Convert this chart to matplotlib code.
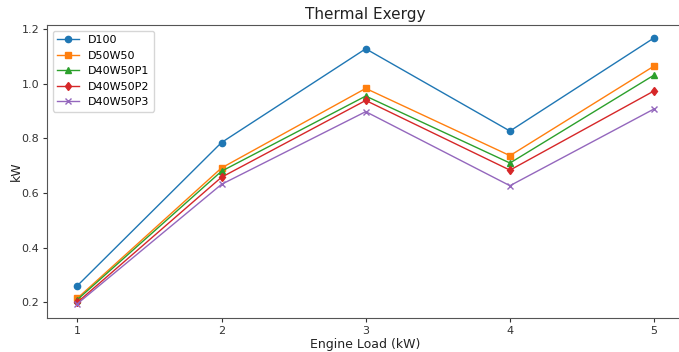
import matplotlib
matplotlib.use("Agg")
import matplotlib.pyplot as plt

load = [1, 2, 3, 4, 5]
d100 = [0.261, 0.785, 1.128, 0.827, 1.168]
d50w50 = [0.215, 0.692, 0.983, 0.737, 1.065]
d40w50p1 = [0.210, 0.680, 0.955, 0.710, 1.032]
d40w50p2 = [0.200, 0.658, 0.939, 0.684, 0.974]
d40w50p3 = [0.195, 0.632, 0.898, 0.627, 0.908]

series = [("D100", d100, "o"), ("D50W50", d50w50, "s"), ("D40W50P1", d40w50p1, "^"),
          ("D40W50P2", d40w50p2, "d"), ("D40W50P3", d40w50p3, "x")]

fig = plt.figure(figsize=(6.79, 3.52), dpi=100)
ax = fig.add_axes([47/679, 1-318/352, 636/679, 293/352])
for name, vals, m in series:
    ax.plot(load, vals, marker=m, markersize=4.5, linewidth=1.0, label=name)

ax.set_title("Thermal Exergy", fontsize=11, color="#222222", pad=4)
ax.set_xlabel("Engine Load (kW)", fontsize=9, color="#222222", labelpad=2)
ax.set_ylabel("kW", fontsize=9, color="#222222", labelpad=-1)
ax.set_xticks(load)
ax.set_yticks([0.2, 0.4, 0.6, 0.8, 1.0, 1.2])
ax.set_xlim(0.79, 5.2)
ax.set_ylim(0.143, 1.215)
ax.tick_params(labelsize=8, colors="#333333", length=3, pad=2.5)
for s in ax.spines.values():
    s.set_color("#555555")
ax.legend(loc="upper left", fontsize=8)
fig.savefig("out.png", dpi=100)
